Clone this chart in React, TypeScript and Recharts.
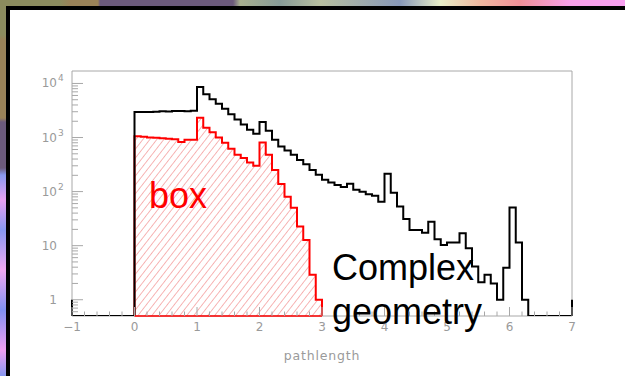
import { ComposedChart, Line, Area, XAxis, YAxis, ReferenceArea, ReferenceLine } from 'recharts'

// histogram binning (pathlength)
const BIN_WIDTH = 0.1
const X_MIN = -1
const X_MAX = 7
const FLOOR = 0.5 // empty bins sit on the lower edge of the log axis
const Y_TOP = 17000

// counts per bin, first bin starts at 0.0
const complexCounts = [
  2950, 2960, 2980, 3000, 3050, 3020, 3080, 3100, 3060, 3120,
  8570, 6300, 5100, 4200, 3400, 2700, 2150, 1750, 1400, 1180,
  1930, 1330, 906, 680, 575, 480, 386, 321, 252, 204,
  165, 147, 133, 121, 139, 108, 99, 89, 84, 65,
  213, 95, 53, 31, 19.5, 19.5, 17.4, 27.8, 13.1, 10.3,
  11.4, 11.4, 17, 9, 4.1, 2.1, 2.9, 2.0, 1.0, 3.9,
  51, 11.4, 1.0,
]

const boxCounts = [
  1060, 1030, 1000, 990, 970, 950, 930, 830, 905, 910,
  2320, 1510, 1250, 1000, 800, 620, 480, 420, 345, 300,
  810, 480, 250, 138, 80, 50, 22.5, 12.7, 2.9, 1.0,
]

const xTickLabels = ['\u22121', '0', '1', '2', '3', '4', '5', '6', '7']
const decadeTicks = [
  { value: 1, base: '1', exp: '' },
  { value: 10, base: '10', exp: '' },
  { value: 100, base: '10', exp: '2' },
  { value: 1000, base: '10', exp: '3' },
  { value: 10000, base: '10', exp: '4' },
]
const minorMultipliers = [2, 3, 4, 5, 6, 7, 8, 9]

const round = (v: number) => Math.round(v * 1000) / 1000
const firstBin = Math.round((0 - X_MIN) / BIN_WIDTH)
const nBins = Math.round((X_MAX - X_MIN) / BIN_WIDTH)

const complexPoints = [
  ...Array.from({ length: nBins }, (_, i) => {
    const c = complexCounts[i - firstBin]
    return { x: round(X_MIN + i * BIN_WIDTH), y: c && c > 0 ? c : FLOOR }
  }),
  { x: X_MAX, y: FLOOR },
]

const boxPoints = [
  { x: 0, y: FLOOR },
  ...boxCounts.map((c, i) => ({ x: round(i * BIN_WIDTH), y: c })),
  { x: round(boxCounts.length * BIN_WIDTH), y: FLOOR },
]

const yTicks = [
  0.6, 0.7, 0.8, 0.9,
  ...decadeTicks.map((d) => d.value),
  ...[1, 10, 100, 1000].flatMap((d) => minorMultipliers.map((m) => m * d)),
].sort((a, b) => a - b)

const xTicks = Array.from({ length: 41 }, (_, i) => round(X_MIN + i * 0.2))

const AXIS_GREY = '#a8a8a8'
const LABEL_GREY = '#9a9a9a'

function YTick(props: any) {
  const { x, y, payload } = props
  const dec = decadeTicks.find((d) => Math.abs(d.value - payload.value) < 1e-9)
  return (
    <g>
      <line x1={x} x2={x + (dec ? 11 : 6)} y1={y} y2={y} stroke={AXIS_GREY} strokeWidth={1} />
      {dec && (
        <text x={x - 15} y={y + 4} textAnchor="end" fontSize={12} fill={LABEL_GREY} fontFamily="DejaVu Sans">
          {dec.base}
        </text>
      )}
      {dec && dec.exp && (
        <text x={x - 14} y={y - 2} fontSize={9} fill={LABEL_GREY} fontFamily="DejaVu Sans">
          {dec.exp}
        </text>
      )}
    </g>
  )
}

function XTick(props: any) {
  const { x, y, payload } = props
  const v = payload.value
  const major = Math.abs(v - Math.round(v)) < 1e-6
  return (
    <g>
      <line x1={x} x2={x} y1={y} y2={y - (major ? 9 : 4.5)} stroke={AXIS_GREY} strokeWidth={1} />
      {major && (
        <text x={x} y={y + 15} textAnchor="middle" fontSize={12} fill={LABEL_GREY} fontFamily="DejaVu Sans">
          {xTickLabels[Math.round(v) - X_MIN]}
        </text>
      )}
    </g>
  )
}

export default function App() {
  return (
    <div
      style={{
        position: 'absolute',
        left: 0,
        top: 0,
        width: 625,
        height: 376,
        overflow: 'hidden',
        background:
          'linear-gradient(to bottom, #8c8c5e 0px, #8c8c5e 35px, #9a8258 40px, #9a8258 118px, #6c5a7c 122px, #6c5a7c 168px, #8898f0 175px, #e8a0f0 200px, #8898f0 230px, #f0a8f0 270px, #8090f0 310px, #f0a0f0 350px, #8898f0 376px)',
      }}
    >
      <div
        style={{
          position: 'absolute',
          left: 0,
          top: 0,
          width: 625,
          height: 6,
          background:
            'linear-gradient(to right, #8c8c5e 0px, #8c8c5e 60px, #9a8258 70px, #9a8258 98px, #6c5a7c 100px, #6c5a7c 233px, #a8b090 240px, #889c98 280px, #b8c0a0 320px, #8898b8 400px, #e8eec8 440px, #f0b8a0 480px, #f09098 520px, #f8a0e8 570px, #f8a0f0 625px)',
        }}
      />
      <div
        style={{
          position: 'absolute',
          left: 6,
          top: 6,
          width: 640,
          height: 400,
          borderLeft: '4px solid #000',
          borderTop: '4px solid #000',
          background: '#fff',
        }}
      />
      <svg width={0} height={0} style={{ position: 'absolute' }}>
        <defs>
          <pattern id="boxHatch" patternUnits="userSpaceOnUse" width={5.5} height={5.5} patternTransform="rotate(38)">
            <line x1={0} y1={0} x2={0} y2={5.5} stroke="#e83a3a" strokeWidth={1} strokeOpacity={0.75} />
          </pattern>
        </defs>
      </svg>
      <div style={{ position: 'absolute', left: 0, top: 0 }}>
        <ComposedChart width={625} height={376} margin={{ top: 71, right: 53, bottom: 10, left: 12 }}>
          <XAxis
            dataKey="x"
            type="number"
            domain={[X_MIN, X_MAX]}
            allowDataOverflow
            ticks={xTicks}
            interval={0}
            tick={<XTick />}
            tickSize={0}
            tickMargin={0}
            tickLine={false}
            axisLine={false}
            height={50}
          />
          <YAxis
            type="number"
            scale="log"
            domain={[FLOOR, Y_TOP]}
            allowDataOverflow
            ticks={yTicks}
            interval={0}
            tick={<YTick />}
            tickSize={0}
            tickMargin={0}
            tickLine={false}
            axisLine={false}
            width={60}
          />
          <ReferenceArea x1={X_MIN} x2={X_MAX} y1={FLOOR} y2={Y_TOP} fill="none" stroke={AXIS_GREY} strokeWidth={1} />
          <Line
            data={complexPoints}
            dataKey="y"
            type="stepAfter"
            stroke="#000"
            strokeWidth={2}
            dot={false}
            isAnimationActive={false}
          />
          <ReferenceLine
            segment={[{ x: X_MIN, y: FLOOR }, { x: X_MIN, y: 1 }]}
            stroke="#000"
            strokeWidth={2}
            ifOverflow="visible"
          />
          <ReferenceLine
            segment={[{ x: X_MAX, y: FLOOR }, { x: X_MAX, y: 1 }]}
            stroke="#000"
            strokeWidth={2}
            ifOverflow="visible"
          />
          <Area
            data={boxPoints}
            dataKey="y"
            type="stepAfter"
            baseValue={FLOOR}
            stroke="#ff0000"
            strokeWidth={2}
            fill="url(#boxHatch)"
            fillOpacity={1}
            dot={false}
            activeDot={false}
            isAnimationActive={false}
          />
          <ReferenceLine
            segment={[{ x: 0, y: FLOOR }, { x: round(boxCounts.length * BIN_WIDTH), y: FLOOR }]}
            stroke="#ff0000"
            strokeWidth={1.5}
            ifOverflow="visible"
          />
        </ComposedChart>
      </div>
      <svg width={625} height={376} style={{ position: 'absolute', left: 0, top: 0, pointerEvents: 'none' }}>
        <text x={322} y={360} textAnchor="middle" fontSize={12.5} letterSpacing={0.8} fill={LABEL_GREY} fontFamily="DejaVu Sans">
          pathlength
        </text>
        <text x={149} y={208} fontSize={36} fill="#ff0000" fontFamily="Liberation Sans">
          box
        </text>
        <text x={332} y={280} fontSize={36} fill="#000" fontFamily="Liberation Sans">
          Complex
        </text>
        <text x={332} y={324} fontSize={36} fill="#000" fontFamily="Liberation Sans">
          geometry
        </text>
      </svg>
    </div>
  )
}
